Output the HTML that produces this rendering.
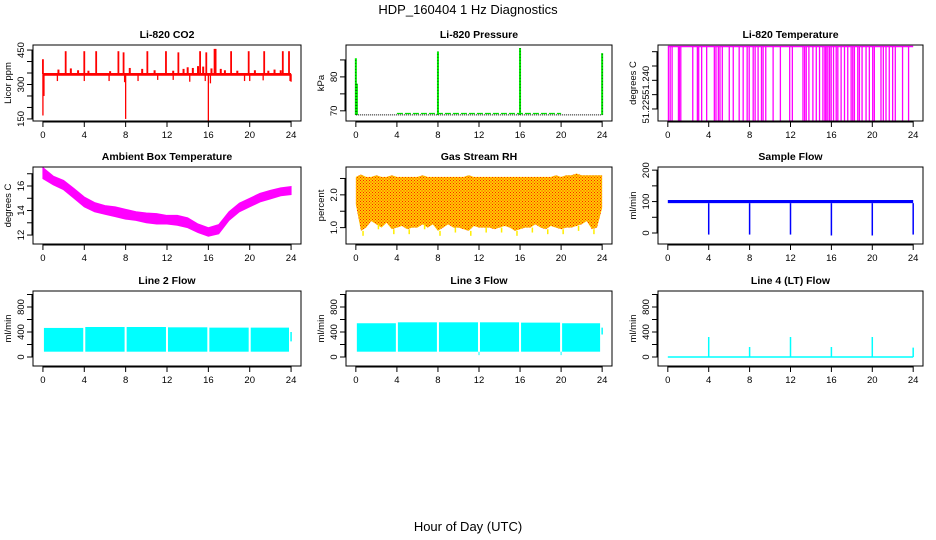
<!DOCTYPE html>
<html><head><meta charset="utf-8">
<style>
html,body{margin:0;padding:0;background:#fff;}
svg{display:block;font-family:"Liberation Sans",sans-serif;}
</style></head>
<body>
<svg id="fig" width="936" height="540" viewBox="0 0 936 540">
<defs>
<pattern id="rhpat" width="3" height="3" patternUnits="userSpaceOnUse">
<rect width="3" height="3" fill="#ffcc00"/><rect width="1" height="1" fill="#ff2000"/><rect x="1.5" y="1.5" width="1" height="1" fill="#ff2000"/>
</pattern>
</defs>
<text x="468" y="14" font-size="13" text-anchor="middle">HDP_160404  1 Hz Diagnostics</text>
<text x="468" y="531" font-size="13" text-anchor="middle">Hour of Day (UTC)</text>
</svg>
<script>
// ---------- data ----------
const xTicks = [0,4,8,12,16,20,24];
// CO2
const co2Base = 345;
const co2SpikeHours = [0.0,2.2,4.0,5.15,7.3,7.8,10.1,11.9,13.1,15.2,15.8,16.6,16.7,18.2,19.9,21.4,23.2,23.8];
const co2SpikeVals  = [410,445,445,445,445,440,445,445,440,445,440,455,455,445,445,445,445,445];
const co2SmallHours = [1.5,2.7,3.4,4.4,6.5,8.4,9.6,10.8,12.6,13.6,14.0,14.5,15.0,15.5,16.3,17.2,17.6,18.8,20.5,21.8,22.4,23.0];
const co2SmallVals  = [365,370,362,360,358,372,368,362,360,368,375,372,380,378,370,368,362,360,362,360,365,362];
const co2DipHours = [0.0,0.1,1.4,4.0,6.4,7.9,8.0,9.2,11.1,12.6,14.2,15.7,16.0,16.2,19.5,20.0,21.3,23.9,24.0];
const co2DipVals  = [165,250,315,315,315,310,150,315,320,320,312,315,142,305,315,315,318,315,312];
// Pressure
const presBase = 68.8;
const presSpikeHours = [0.0,0.1,8.0,16.0,24.0];
const presSpikeVals  = [85.5,78,87.5,88.5,87];
// Li-820 temperature
const tempTop = 51.2577, tempBottom = 51.2187;
const tempDropHours = [0.06,0.23,0.42,1.04,1.14,1.27,2.44,2.89,3.02,3.31,3.80,4.55,4.71,4.94,5.10,5.33,6.01,6.40,6.98,7.37,7.76,7.96,8.35,8.54,8.83,9.16,9.32,9.58,10.30,11.01,11.92,12.18,13.22,13.38,13.54,13.80,14.19,14.52,14.84,15.17,15.36,15.49,15.65,15.82,15.98,16.21,16.47,16.63,16.95,17.28,17.60,17.93,18.09,18.25,18.58,18.74,19.00,19.39,19.71,20.04,20.20,20.85,21.08,21.34,21.66,21.99,22.25,22.96,23.55];
// Ambient box temp (hourly band)
const hours = [0,1,2,3,4,5,6,7,8,9,10,11,12,13,14,15,16,17,18,19,20,21,22,23,24];
const ambUpper = [17.5,16.8,16.45,15.8,15.1,14.65,14.4,14.3,14.1,13.9,13.8,13.75,13.6,13.6,13.4,12.9,12.6,12.85,13.9,14.6,15.0,15.4,15.65,15.85,15.95];
const ambLower = [16.6,16.1,15.7,15.0,14.3,13.9,13.7,13.5,13.3,13.2,13.0,12.9,12.9,12.8,12.6,12.2,11.9,12.1,13.2,13.9,14.3,14.7,14.95,15.2,15.3];
// Gas stream RH
const rhHalfHours = [0,0.5,1,1.5,2,2.5,3,3.5,4,4.5,5,5.5,6,6.5,7,7.5,8,8.5,9,9.5,10,10.5,11,11.5,12,12.5,13,13.5,14,14.5,15,15.5,16,16.5,17,17.5,18,18.5,19,19.5,20,20.5,21,21.5,22,22.5,23,23.5,24];
const rhUpper = [2.55,2.62,2.55,2.55,2.6,2.55,2.55,2.6,2.55,2.55,2.55,2.55,2.55,2.6,2.55,2.55,2.55,2.55,2.55,2.55,2.55,2.55,2.6,2.55,2.55,2.55,2.55,2.55,2.55,2.55,2.55,2.55,2.55,2.55,2.55,2.55,2.55,2.55,2.55,2.6,2.55,2.6,2.6,2.65,2.6,2.6,2.6,2.6,2.6];
const rhLower = [1.7,0.9,1.0,1.2,1.1,1.0,1.15,0.95,1.0,1.05,0.95,1.0,1.0,1.1,1.0,1.1,0.9,1.0,1.1,1.0,1.0,0.95,0.9,1.05,1.0,1.0,1.0,0.95,1.0,1.05,1.0,0.9,0.95,1.0,1.0,1.1,1.0,0.95,1.05,1.0,0.95,1.0,1.0,1.05,1.1,1.2,0.95,1.0,1.6];
// Sample flow
const sfLow = 95, sfHigh = 105;
const sfDipHours = [4,8,12,16,20,24];
const sfDipVals = [-5,-5,-5,-8,-8,-5];
// Line flows
const l2Low = 85, l2High = [465,480,480,475,470,470];
const l3Low = 85, l3High = [540,555,555,555,550,540];
const segStarts = [0,4,8,12,16,20];
const segEnds = [3.9,7.9,11.9,15.9,19.9,23.8];
const l4SpikeHours = [4,8,12,16,20,24];
const l4SpikeVals = [320,160,320,160,320,150];

// ---------- helpers ----------
const NS = "http://www.w3.org/2000/svg";
const svg = document.getElementById('fig');
function mk(tag, attrs, parent){const e=document.createElementNS(NS,tag);for(const k in attrs)e.setAttribute(k,attrs[k]);(parent||svg).appendChild(e);return e;}
const colX = [[33,301],[346,612],[658,923]];
const rowY = [[45,121],[167,244],[291,366]];

function panel(name, col, row, title, ylab, ylim, yticks, ylabels){
  const [x0,x1]=colX[col],[y0,y1]=rowY[row];
  const g = mk('g',{});
  
  
  const sx = v => x0 + (v+0.96)/25.92*(x1-x0);
  const sy = v => y1 - (v-ylim[0])/(ylim[1]-ylim[0])*(y1-y0);
  const data = mk('g',{},g);
  
  
  const t = mk('text',{x:(x0+x1)/2,y:y0-7,'font-size':10.5,'font-weight':'bold','text-anchor':'middle'},g);
  t.textContent = title;
  
  
  const box = mk('rect',{x:x0,y:y0,width:x1-x0,height:y1-y0,fill:'none',stroke:'#000','stroke-width':1},g);
  
  
  const xa = mk('g',{},g);
  
  
  mk('line',{x1:sx(0),x2:sx(24),y1:y1+1,y2:y1+1,stroke:'#000'},xa);
  xTicks.forEach(v=>{
    mk('line',{x1:sx(v),x2:sx(v),y1:y1,y2:y1+6,stroke:'#000'},xa);
    const tl = mk('text',{x:sx(v),y:y1+17,'font-size':9.5,'text-anchor':'middle'},xa);
    tl.textContent = v;
  });
  const ya = mk('g',{},g);
  
  
  mk('line',{x1:x0-1,x2:x0-1,y1:sy(yticks[0]),y2:sy(yticks[yticks.length-1]),stroke:'#000'},ya);
  yticks.forEach((v,i)=>{
    mk('line',{x1:x0-6,x2:x0,y1:sy(v),y2:sy(v),stroke:'#000'},ya);
    if(ylabels[i]!==''){
      const tl = mk('text',{x:0,y:0,'font-size':9.5,'text-anchor':'middle',transform:`translate(${x0-9},${sy(v)}) rotate(-90)`},ya);
      tl.textContent = ylabels[i];
    }
  });
  const yl = mk('text',{'font-size':9.5,'text-anchor':'middle',transform:`translate(${x0-22},${(y0+y1)/2}) rotate(-90)`},g);
  yl.textContent = ylab;
  
  
  return {sx,sy,g:data};
}
function vline(p,h,a,b,color,w){mk('line',{x1:p.sx(h),x2:p.sx(h),y1:p.sy(a),y2:p.sy(b),stroke:color,'stroke-width':w||1.5},p.g);}

// CO2
let p = panel('co2',0,0,'Li-820 CO2','Licor ppm',[141,472],[150,200,250,300,350,400,450],['150','','','300','','','450']);
mk('rect',{x:p.sx(0),y:p.sy(350),width:p.sx(24)-p.sx(0),height:p.sy(338)-p.sy(350),fill:'#ff0000'},p.g);
co2SpikeHours.forEach((h,i)=>vline(p,h,co2Base,co2SpikeVals[i],'#ff0000',1.8));
co2SmallHours.forEach((h,i)=>vline(p,h,co2Base,co2SmallVals[i],'#ff0000',2));
co2DipHours.forEach((h,i)=>vline(p,h,co2Base,co2DipVals[i],'#ff0000',1.3));

// Pressure
p = panel('pressure',1,0,'Li-820 Pressure','kPa',[67,89.4],[70,75,80,85],['70','','80','']);
mk('line',{x1:p.sx(0),x2:p.sx(24),y1:p.sy(presBase),y2:p.sy(presBase),stroke:'#000','stroke-dasharray':'1,1'},p.g);
mk('line',{x1:p.sx(4),x2:p.sx(20),y1:p.sy(69.2),y2:p.sy(69.2),stroke:'#00dd00','stroke-width':1.2,'stroke-dasharray':'6,2'},p.g);
presSpikeHours.forEach((h,i)=>vline(p,h,presBase,presSpikeVals[i],'#00ee00',2));
presSpikeHours.forEach((h,i)=>mk('line',{x1:p.sx(h),x2:p.sx(h),y1:p.sy(presBase),y2:p.sy(presSpikeVals[i]),stroke:'#000','stroke-width':0.6,'stroke-dasharray':'1,2'},p.g));

// Li-820 temperature
p = panel('li820-temperature',2,0,'Li-820 Temperature','degrees C',[51.2187,51.2585],[51.225,51.2325,51.240,51.2475,51.255],['51.225','','51.240','','']);
mk('line',{x1:p.sx(0),x2:p.sx(24),y1:p.sy(tempTop),y2:p.sy(tempTop),stroke:'#ff00ff','stroke-width':1.5},p.g);
tempDropHours.forEach(h=>vline(p,h,tempTop,tempBottom,'#ff00ff',1.3));

// Ambient box temperature
p = panel('ambient-temperature',0,1,'Ambient Box Temperature','degrees C',[11.27,17.55],[12,13,14,15,16,17],['12','','14','','16','']);
{let pts=hours.map((h,i)=>p.sx(h)+','+p.sy(ambUpper[i])).concat(hours.slice().reverse().map((h,i)=>p.sx(h)+','+p.sy(ambLower[hours.length-1-i])));
 mk('polygon',{points:pts.join(' '),fill:'#ff00ff',stroke:'#ff00ff','stroke-width':1},p.g);}

// Gas stream RH
p = panel('gas-rh',1,1,'Gas Stream RH','percent',[0.5,2.85],[1.0,1.5,2.0,2.5],['1.0','','2.0','']);
{let pts=rhHalfHours.map((h,i)=>p.sx(h)+','+p.sy(rhUpper[i])).concat(rhHalfHours.slice().reverse().map((h,i)=>p.sx(h)+','+p.sy(rhLower[rhHalfHours.length-1-i])));
 mk('polygon',{points:pts.join(' '),fill:'url(#rhpat)'},p.g);
 rhHalfHours.forEach((h,i)=>{ if(i%3===1) vline(p,h+0.2,rhLower[i],rhLower[i]-0.15,'#ffee00',1.5); });}

// Sample flow
p = panel('sample-flow',2,1,'Sample Flow','ml/min',[-35,210],[0,50,100,150,200],['0','','100','','200']);
mk('rect',{x:p.sx(0),y:p.sy(sfHigh),width:p.sx(24)-p.sx(0),height:p.sy(sfLow)-p.sy(sfHigh),fill:'#0000ff'},p.g);
sfDipHours.forEach((h,i)=>vline(p,h,sfLow,sfDipVals[i],'#0000ff',1.5));

// Line 2 flow
p = panel('line2-flow',0,2,'Line 2 Flow','ml/min',[-144,1056],[0,200,400,600,800,1000],['0','','400','','800','']);
segStarts.forEach((s,i)=>mk('rect',{x:p.sx(s)+1,y:p.sy(l2High[i]),width:p.sx(segEnds[i])-p.sx(s)-1,height:p.sy(l2Low)-p.sy(l2High[i]),fill:'#00ffff'},p.g));
vline(p,24,250,400,'#00ffff',1.5);

// Line 3 flow
p = panel('line3-flow',1,2,'Line 3 Flow','ml/min',[-144,1056],[0,200,400,600,800,1000],['0','','400','','800','']);
segStarts.forEach((s,i)=>mk('rect',{x:p.sx(s)+1,y:p.sy(l3High[i]),width:p.sx(segEnds[i])-p.sx(s)-1,height:p.sy(l3Low)-p.sy(l3High[i]),fill:'#00ffff'},p.g));
vline(p,12,l3Low,30,'#00ffff',1);vline(p,20,l3Low,30,'#00ffff',1);vline(p,24,360,470,'#00ffff',1.5);

// Line 4 flow
p = panel('line4-flow',2,2,'Line 4 (LT) Flow','ml/min',[-144,1056],[0,200,400,600,800,1000],['0','','400','','800','']);
mk('line',{x1:p.sx(0),x2:p.sx(24),y1:p.sy(0),y2:p.sy(0),stroke:'#00ffff','stroke-width':1.5},p.g);
l4SpikeHours.forEach((h,i)=>vline(p,h,0,l4SpikeVals[i],'#00ffff',1.5));
</script>
</body></html>
